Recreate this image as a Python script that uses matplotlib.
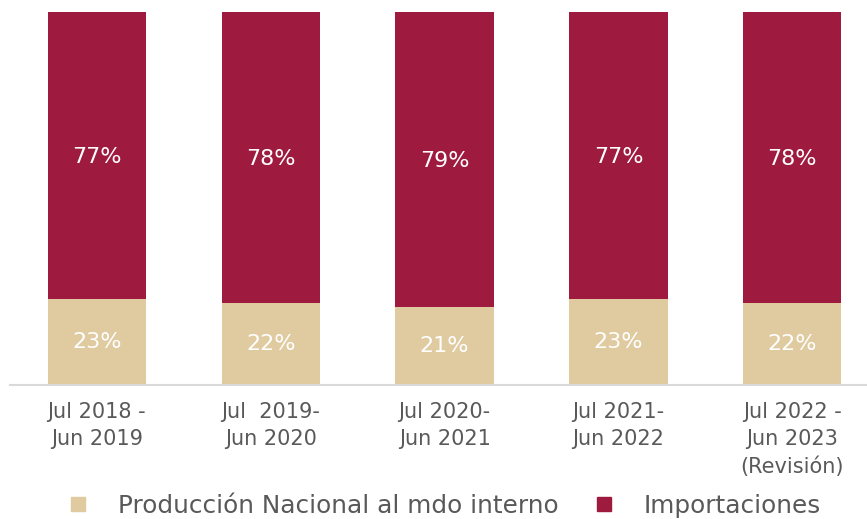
import matplotlib
matplotlib.use("Agg")
import matplotlib.pyplot as plt
from matplotlib.lines import Line2D

categories = ["Jul 2018 -\nJun 2019", "Jul  2019-\nJun 2020", "Jul 2020-\nJun 2021",
              "Jul 2021-\nJun 2022", "Jul 2022 -\nJun 2023\n(Revisión)"]
nacional = [23, 22, 21, 23, 22]
importaciones = [77, 78, 79, 77, 78]
series_names = ["Producción Nacional al mdo interno", "Importaciones"]

c_nac = "#E0CAA0"
c_imp = "#9E1B3F"
txt = "#595959"

plt.rcParams['font.family'] = ['DejaVu Sans']

fig = plt.figure(figsize=(8.67, 5.19), dpi=100)
ax = fig.add_axes([10/867, 1-385/519, 857/867, 373/519])
x = list(range(len(categories)))
w = 0.565
ax.bar(x, nacional, w, color=c_nac)
ax.bar(x, importaciones, w, bottom=nacional, color=c_imp)
for i in x:
    ax.text(i, nacional[i]/2, f"{nacional[i]}%", ha='center', va='center',
            color='white', fontsize=16)
    ax.text(i, nacional[i] + importaciones[i]/2 - 0.5, f"{importaciones[i]}%", ha='center',
            va='center', color='white', fontsize=16)
ax.set_xlim(-0.5, 4.43)
ax.set_ylim(0, 100)
ax.set_yticks([])
ax.set_xticks(x)
ax.set_xticklabels(categories, fontsize=15, color=txt, linespacing=1.46)
ax.tick_params(axis='x', length=0, pad=12)
for s in ['top', 'right', 'left']:
    ax.spines[s].set_visible(False)
ax.spines['bottom'].set_color('#D9D9D9')
ax.spines['bottom'].set_linewidth(1.5)

handles = [Line2D([], [], marker='s', linestyle='', color=c_nac, markersize=10),
           Line2D([], [], marker='s', linestyle='', color=c_imp, markersize=10)]
fig.legend(handles, series_names, loc='center', bbox_to_anchor=(0.507, 1-506/519),
           ncol=2, frameon=False, fontsize=17.8, labelcolor=txt,
           handlelength=1.6, handletextpad=0.8, columnspacing=1.05)

fig.savefig("out.png", dpi=100)
